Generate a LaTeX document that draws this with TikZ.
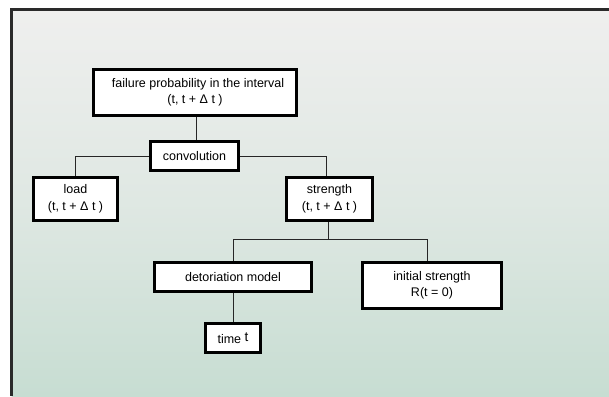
\documentclass[tikz,border=0pt]{standalone}
\usepackage{fontspec}
\setmainfont{Liberation Sans}
\definecolor{framecol}{HTML}{2A2A2A}
\definecolor{bgtop}{HTML}{EFEFEE}
\definecolor{bgbot}{HTML}{C7DDD2}
\tikzset{
  box/.style={draw=black, line width=2.6pt, fill=white, inner sep=1pt, align=center,
    font=\fontsize{12.5}{16.5}\selectfont},
  link/.style={draw=black!85, line width=0.9pt}
}
\begin{document}
\begin{tikzpicture}[x=1pt,y=-1pt]
\useasboundingbox (0,0) rectangle (609,396);
\fill[white] (0,0) rectangle (609,396);
\shade[top color=bgtop, bottom color=bgbot, middle color=bgtop!60!bgbot] (11.5,9.5) rectangle (609,396);
\draw[framecol, line width=3pt] (11.5,396) -- (11.5,9.5) -- (609,9.5);

\node[box, minimum width=203pt, minimum height=46pt] (fail) at (195,92.5)
  {\hspace*{6pt}failure probability in the interval\\(t, t + Δ t )};
\node[box, minimum width=88pt, minimum height=29pt] (conv) at (194.5,156) {convolution};
\node[box, minimum width=84pt, minimum height=43pt] (load) at (75.5,199)
  {load\\(t, t + Δ t )};
\node[box, minimum width=86pt, minimum height=43pt] (str) at (329.5,199)
  {strength\\(t, t + Δ t )};
\node[box, minimum width=157pt, minimum height=29pt] (det) at (233,277) {detoriation model};
\node[box, minimum width=139pt, minimum height=46pt] (init) at (432,285.5)
  {initial strength\\R(t = 0)};
\node[box, minimum width=55pt, minimum height=29pt] (time) at (233,338)
  {time \raisebox{2pt}{\fontsize{13.5}{14}\selectfont t}};

\draw[link] ([xshift=1pt]fail.south) -- ([xshift=1.5pt]conv.north);
\draw[link] (conv.west) -| (load.north);
\draw[link] (conv.east) -| ([xshift=-3.5pt]str.north);
\draw[link] ([xshift=-1.5pt]str.south) -- ++(0,18) coordinate (j);
\draw[link] (j) -| (det.north);
\draw[link] (j) -| ([xshift=-5pt]init.north);
\draw[link] (det.south) -- (time.north);
\end{tikzpicture}
\end{document}
